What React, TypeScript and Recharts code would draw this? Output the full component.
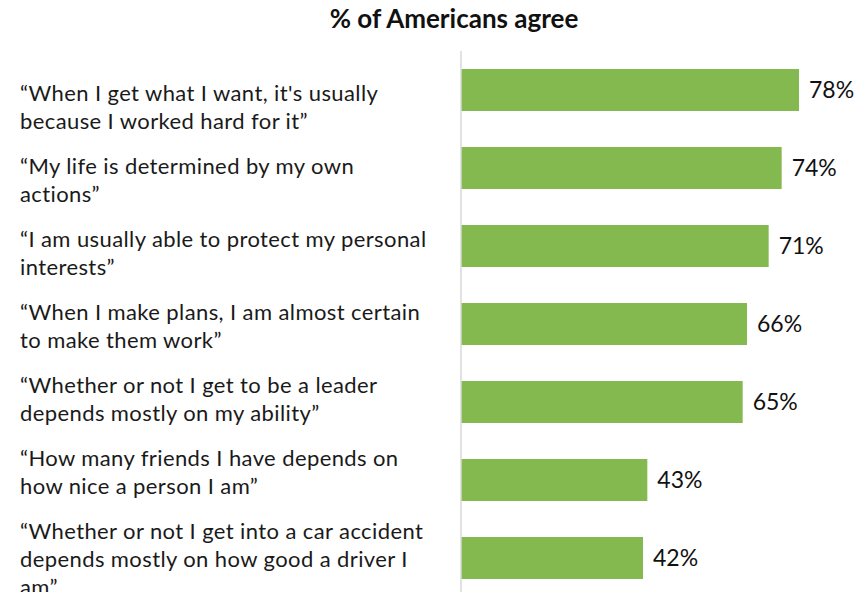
import React from 'react';
import { BarChart, Bar, XAxis, YAxis, LabelList } from 'recharts';

const statements = [
  '“When I get what I want, it\'s usually\nbecause I worked hard for it”',
  '“My life is determined by my own\nactions”',
  '“I am usually able to protect my personal\ninterests”',
  '“When I make plans, I am almost certain\nto make them work”',
  '“Whether or not I get to be a leader\ndepends mostly on my ability”',
  '“How many friends I have depends on\nhow nice a person I am”',
  '“Whether or not I get into a car accident\ndepends mostly on how good a driver I\nam”',
];

const agreePct = [78, 74, 71, 66, 65, 43, 42];

const data = statements.map((name, i) => ({ name, value: agreePct[i] }));

const font = 'Lato, "Noto Sans", sans-serif';
const green = '#83B94F';

const StatementTick = (props: any) => {
  const { y, payload, index } = props;
  const lines: string[] = String(payload.value).split('\n');
  // labels sit on a slightly tighter rhythm than the bars
  const firstY = y + 11 - index * 5;
  return (
    <text
      x={20}
      y={firstY}
      textAnchor="start"
      fontFamily={font}
      fontSize={22}
      letterSpacing={0.4}
      fill="#1a1a1a"
    >
      {lines.map((line, i) => (
        <tspan key={i} x={20} y={firstY + i * 28}>
          {line}
        </tspan>
      ))}
    </text>
  );
};

export default function App() {
  return (
    <div
      style={{
        position: 'fixed',
        top: 0,
        left: 0,
        width: 857,
        height: 592,
        overflow: 'hidden',
        background: '#fff',
      }}
    >
      <div
        style={{
          position: 'absolute',
          top: 2,
          left: 0,
          width: 908,
          textAlign: 'center',
          fontFamily: font,
          fontWeight: 700,
          fontSize: 26,
          color: '#111',
        }}
      >
        % of Americans agree
      </div>
      <div style={{ position: 'absolute', top: 0, left: 0 }}>
        <BarChart
          width={857}
          height={600}
          data={data}
          layout="vertical"
          margin={{ top: 51, right: 6, bottom: 3, left: 0 }}
          barCategoryGap={0}
        >
          <XAxis type="number" domain={[0, 90]} hide />
          <YAxis
            type="category"
            dataKey="name"
            width={461}
            axisLine={{ stroke: '#D9D9D9', strokeWidth: 1.5 }}
            tickLine={false}
            tick={<StatementTick />}
            interval={0}
          />
          <Bar dataKey="value" fill={green} barSize={42} isAnimationActive={false}>
            <LabelList
              dataKey="value"
              position="right"
              offset={10}
              formatter={(v: any) => `${v}%`}
              style={{ fontFamily: font, fontSize: 23, fill: '#111' }}
            />
          </Bar>
        </BarChart>
      </div>
    </div>
  );
}
